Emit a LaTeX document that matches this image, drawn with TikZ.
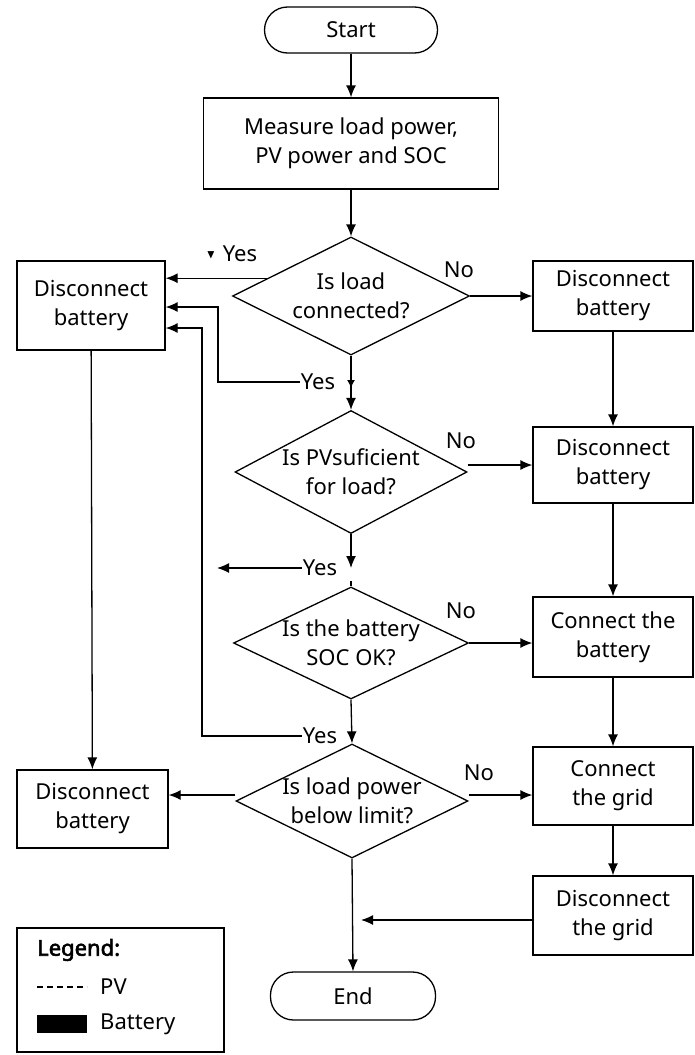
\documentclass[tikz,border=0pt]{standalone}
\usepackage{amssymb}
\usepackage{fontspec}
\setmainfont{Noto Sans}[AutoFakeBold=2.5]
\usetikzlibrary{arrows.meta,shapes.geometric}

\begin{document}
\begin{tikzpicture}[
  x={(1pt,0pt)},
  y={(0pt,-1pt)},
  font=\fontsize{22}{29}\selectfont,
  >={Latex[length=12pt,width=10pt]},
  term/.style={draw, line width=1.3pt, rounded corners=23pt, inner sep=0pt},
  proc/.style={draw, line width=1.3pt, align=center, inner sep=0pt},
  decide/.style={draw, line width=1.3pt, diamond, align=center, inner sep=-20pt},
  flow/.style={->, line width=1.3pt},
  plain/.style={line width=1.3pt},
  tick/.style={-{Latex[length=8pt,width=8pt]}, line width=1.3pt},
  ans/.style={inner sep=1pt},
  legtext/.style={anchor=west, inner sep=0pt}
]
\useasboundingbox (0,0) rectangle (694,1055);

\node[term, minimum width=173pt, minimum height=46pt] (start) at (351,30) {Start};
\node[proc, minimum width=295pt, minimum height=91pt] (measure) at (351,143.5) {Measure load power,\\ PV power and SOC};

\node[decide, minimum width=237pt, minimum height=118pt] (qload) at (351,296) {Is load\\ connected?};
\node[decide, minimum width=232pt, minimum height=123pt] (qpv) at (351,472) {Is PVsuficient\\ for load?};
\node[decide, minimum width=235pt, minimum height=112pt] (qsoc) at (351,643) {Is the battery\\ SOC OK?};
\node[decide, minimum width=232pt, minimum height=114pt] (qlimit) at (352,801) {Is load power\\ below limit?};
\node[term, minimum width=165pt, minimum height=48pt] (end) at (353,996) {End};

\node[proc, minimum width=148pt, minimum height=89pt] (leftbatt) at (91,305.5) {Disconnect\\ battery};
\node[proc, minimum width=151pt, minimum height=78pt] (leftbatt2) at (92.5,809) {Disconnect\\ battery};

\node[proc, minimum width=160pt, minimum height=70pt] (disbatt1) at (613,296) {Disconnect\\ battery};
\node[proc, minimum width=160pt, minimum height=76pt] (disbatt2) at (613,465) {Disconnect\\ battery};
\node[proc, minimum width=160pt, minimum height=80pt] (conbatt) at (613,637) {Connect the\\ battery};
\node[proc, minimum width=160pt, minimum height=78pt] (congrid) at (613,786) {Connect\\ the grid};
\node[proc, minimum width=160pt, minimum height=79pt] (disgrid) at (613,915.5) {Disconnect\\ the grid};

\node[ans] (yes1) at (240,254) {Yes};
\node[inner sep=0pt] (mark1) at (211,255) {\fontsize{12}{12}\selectfont$\blacktriangledown$};
\node[ans] (yes2) at (318,382) {Yes};
\node[ans] (yes3) at (320,568) {Yes};
\node[ans] (yes4) at (320,736) {Yes};
\node[ans] (no1) at (459,270) {No};
\node[ans] (no2) at (461,441) {No};
\node[ans] (no3) at (461,611) {No};
\node[ans] (no4) at (479,773) {No};

\coordinate (mid1) at (351,388);
\coordinate (mid2) at (351,568);
\coordinate (mid3) at (351,581);
\coordinate (bend2) at (218,307);
\coordinate (bend4) at (202,328);
\coordinate (tip3) at (217,571);
\coordinate (tip5) at (361,920);

\draw[flow] (start) -- (measure);
\draw[flow] (measure) -- (qload);
\draw[flow] (qload.south) -- (qpv.north);
\draw[tick] (qload.south) -- (mid1);
\draw[flow] (qpv.south) -- (mid2);
\draw[plain] (mid3) -- (qsoc.north);
\draw[flow] (qsoc.south) -- (qlimit.north);
\draw[flow] (qlimit.south) -- (end.north);

\draw[flow] (qload.168) -- (qload.168 -| leftbatt.east);
\draw[flow] (yes2.west) -| (bend2) -- (bend2 -| leftbatt.east);
\draw[flow] (yes3.west) -- (yes3.west -| tip3);
\draw[flow] (yes4.west) -| (bend4) -- (bend4 -| leftbatt.east);
\draw[flow] (leftbatt) -- (leftbatt2);
\draw[flow] ([yshift=6pt]qlimit.west) -- ([yshift=6pt]qlimit.west -| leftbatt2.east);

\draw[flow] (qload.east) -- (disbatt1.west);
\draw[flow] (qpv.east |- disbatt2.west) -- (disbatt2.west);
\draw[flow] (qsoc.east) -- (qsoc.east -| conbatt.west);
\draw[flow] ([yshift=6pt]qlimit.east) -- ([yshift=6pt]qlimit.east -| congrid.west);

\draw[flow] (disbatt1) -- (disbatt2);
\draw[flow] (disbatt2) -- (conbatt);
\draw[flow] (conbatt) -- (congrid);
\draw[flow] (congrid) -- (disgrid);
\draw[flow] (disgrid.west |- tip5) -- (tip5);

\draw[plain] (17,928) rectangle (224,1052);
\node[legtext, font=\fontsize{22}{29}\selectfont\bfseries] (legend) at (37,950) {Legend:};
\draw[plain, dash pattern=on 6pt off 4pt] (37,987) -- (87,987);
\node[legtext] (pv) at (100,987) {PV};
\fill (37,1015) rectangle (87,1033);
\node[legtext] (battery) at (100,1024) {Battery};
\end{tikzpicture}
\end{document}
